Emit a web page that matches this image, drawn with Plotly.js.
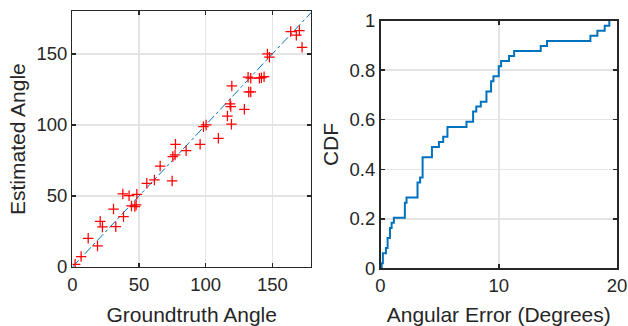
<!DOCTYPE html>
<html>
<head>
<meta charset="utf-8">
<script src="https://cdn.plot.ly/plotly-3.0.1.min.js"></script>
<style>html,body{margin:0;padding:0;background:#fff;}#chart{width:628px;height:326px;}</style>
</head>
<body>
<div id="chart"></div>
<script>
// Left panel: groundtruth vs estimated angles
const groundtruthAngle = [2.0, 6.5, 11.8, 18.8, 20.8, 22.5, 30.8, 32.5, 38.3, 37.8, 42.5, 44.3, 47.8, 48.3, 46.8,
  55.8, 61.5, 65.8, 74.8, 75.3, 77.0, 77.3, 85.3, 95.8,
  109.5, 119.3, 116.3, 129.0, 118.8, 118.3, 119.6, 132.3, 133.8, 131.8, 133.8, 140.3, 143.8, 141.8,
  146.3, 147.8, 98.3, 100.3, 163.8, 168.0, 170.3, 172.3];
const estimatedAngle = [1.9, 7.3, 20.2, 14.8, 32.2, 28.2, 40.8, 28.4, 35.4, 51.4, 50.2, 43.0, 43.7, 51.2, 42.5,
  58.9, 61.3, 71.1, 60.6, 77.7, 78.9, 86.4, 81.9, 86.4,
  90.6, 100.5, 106.3, 111.0, 112.9, 114.8, 127.5, 123.2, 123.2, 133.6, 132.9, 132.9, 134.0, 133.3,
  150.0, 147.7, 98.8, 100.0, 165.7, 163.2, 166.4, 154.7];
const diagonal = [0, 180];

// Right panel: empirical CDF of angular error (step corners)
const angularError = [0, 0.1, 0.2, 0.46, 0.6, 0.8, 0.94, 1.13, 2.06, 2.2, 3.13, 3.35, 3.56, 4.35, 4.94, 5.3, 5.66,
  7.27, 7.83, 8.1, 8.48, 8.96, 9.35, 9.55, 10.0, 10.2, 10.87, 11.3, 13.55, 14.08, 17.75, 18.34, 18.96, 19.35];
const cdfValue = [0, 0.020, 0.061, 0.082, 0.122, 0.163, 0.184, 0.204, 0.265, 0.286, 0.347, 0.367, 0.449, 0.490, 0.510, 0.531, 0.571,
  0.592, 0.633, 0.653, 0.673, 0.714, 0.755, 0.776, 0.816, 0.837, 0.857, 0.878, 0.898, 0.918, 0.939, 0.959, 0.980, 1.0];

const leftTicks = [0, 50, 100, 150];
const cdfXTicks = [0, 10, 20];
const cdfYTicks = [0, 0.2, 0.4, 0.6, 0.8, 1];
const cdfYTickText = ['0', '0.2', '0.4', '0.6', '0.8', '1'];

const FONT = 'Liberation Sans, Arial, Helvetica, sans-serif';
const DARK = '#262626';
const BLUE = '#0072BD';

const axisBase = {
  ticks: 'inside', ticklen: 4, tickwidth: 1.5, tickcolor: DARK,
  showline: true, linecolor: DARK, linewidth: 1.5, mirror: 'allticks',
  showgrid: true, gridcolor: '#e4e4e4', gridwidth: 1.5, zeroline: false,
  tickfont: {family: FONT, size: 18.5, color: DARK},
  automargin: false, fixedrange: true
};

const traces = [
  {x: diagonal, y: diagonal, type: 'scatter', mode: 'lines', xaxis: 'x', yaxis: 'y',
   line: {color: BLUE, width: 1, dash: 'dashdot'}, hoverinfo: 'skip'},
  {x: groundtruthAngle, y: estimatedAngle, type: 'scatter', mode: 'markers', xaxis: 'x', yaxis: 'y',
   marker: {symbol: 'cross-thin-open', size: 7.5, color: 'red', line: {color: 'red', width: 1.25}}},
  {x: angularError, y: cdfValue, type: 'scatter', mode: 'lines', xaxis: 'x2', yaxis: 'y2',
   line: {color: BLUE, width: 2, shape: 'hv'}}
];

const layout = {
  width: 628, height: 326,
  margin: {l: 0, r: 0, t: 0, b: 0},
  paper_bgcolor: '#fff', plot_bgcolor: '#fff',
  showlegend: false,
  font: {family: FONT, color: DARK},
  xaxis: Object.assign({}, axisBase, {
    domain: [0.1154, 0.4952], range: [0, 179], tickvals: leftTicks, anchor: 'y',
    title: {text: 'Groundtruth Angle', font: {family: FONT, size: 21, color: DARK}, standoff: 13}
  }),
  yaxis: Object.assign({}, axisBase, {
    domain: [0.181, 0.9653], range: [0, 180], tickvals: leftTicks, anchor: 'x',
    title: {text: 'Estimated Angle', font: {family: FONT, size: 21, color: DARK}, standoff: 5}
  }),
  xaxis2: Object.assign({}, axisBase, {
    domain: [0.6059, 0.9825], range: [0, 20], tickvals: cdfXTicks, anchor: 'y2',
    title: {text: 'Angular Error (Degrees)', font: {family: FONT, size: 21, color: DARK}, standoff: 13}
  }),
  yaxis2: Object.assign({}, axisBase, {
    domain: [0.177, 0.9365], range: [0, 1], tickvals: cdfYTicks, ticktext: cdfYTickText, anchor: 'x2',
    title: {text: 'CDF', font: {family: FONT, size: 21, color: DARK}, standoff: 5}
  })
};

Plotly.newPlot('chart', traces, layout, {staticPlot: true, displayModeBar: false});
</script>
</body>
</html>
